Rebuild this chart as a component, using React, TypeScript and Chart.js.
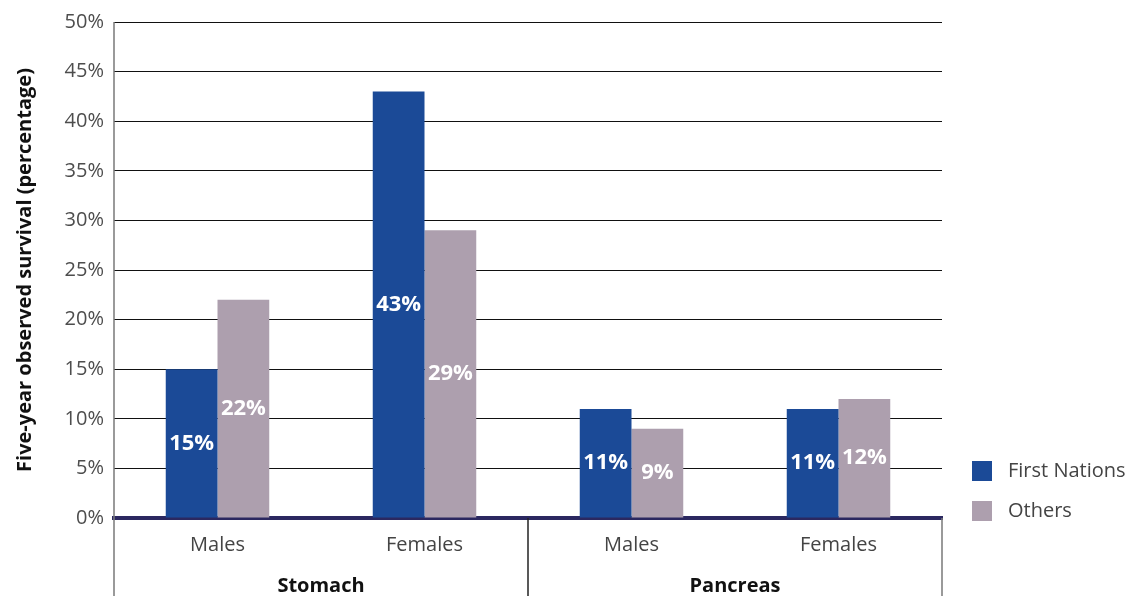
import React, { useEffect, useRef } from "react";
import { Chart, registerables } from "chart.js";

Chart.register(...registerables);

const subCategories = ["Males", "Females", "Males", "Females"];
const groups = ["Stomach", "Pancreas"];
const firstNations = [15, 43, 11, 11];
const others = [22, 29, 9, 12];
const yTicks = [0, 5, 10, 15, 20, 25, 30, 35, 40, 45, 50];
const seriesNames = ["First Nations", "Others"];
const seriesColors = ["#1b4a97", "#ad9fae"];

const FONT = "'Open Sans', 'Noto Sans', sans-serif";

const decorPlugin = {
  id: "decor",
  afterDraw(chart: any) {
    const { ctx, chartArea, scales } = chart;
    const x = scales.x;
    const H = chart.height;
    ctx.save();
    // data labels
    ctx.font = `bold 22px ${FONT}`;
    ctx.fillStyle = "#ffffff";
    ctx.textAlign = "center";
    ctx.textBaseline = "middle";
    chart.data.datasets.forEach((ds: any, di: number) => {
      const meta = chart.getDatasetMeta(di);
      meta.data.forEach((bar: any, i: number) => {
        const v = ds.data[i];
        const midY = (bar.y + bar.base) / 2;
        ctx.fillText(v + "%", bar.x, midY);
      });
    });
    // separators
    const sepMid = (x.getPixelForValue(1) + x.getPixelForValue(2)) / 2;
    ctx.lineWidth = 1.5;
    ctx.strokeStyle = "#7a7a7a";
    ctx.beginPath();
    ctx.moveTo(chartArea.left, chartArea.top);
    ctx.lineTo(chartArea.left, H);
    ctx.moveTo(chartArea.right, chartArea.bottom);
    ctx.lineTo(chartArea.right, H);
    ctx.stroke();
    ctx.strokeStyle = "#222222";
    ctx.beginPath();
    ctx.moveTo(sepMid, chartArea.bottom);
    ctx.lineTo(sepMid, H);
    ctx.stroke();
    // group labels
    ctx.font = `bold 20px ${FONT}`;
    ctx.fillStyle = "#111111";
    ctx.textBaseline = "middle";
    groups.forEach((g, gi) => {
      const cx = (x.getPixelForValue(gi * 2) + x.getPixelForValue(gi * 2 + 1)) / 2;
      ctx.fillText(g, cx, 586);
    });
    // legend
    ctx.textAlign = "left";
    ctx.font = `20px ${FONT}`;
    chart.data.datasets.forEach((ds: any, di: number) => {
      const top = 461 + di * 40;
      ctx.fillStyle = ds.backgroundColor;
      ctx.fillRect(972, top, 20, 20);
      ctx.fillStyle = "#444444";
      ctx.fillText(ds.label, 1008, top + 10);
    });
    ctx.restore();
  },
};

export default function App() {
  const ref = useRef<HTMLCanvasElement | null>(null);
  useEffect(() => {
    document.body.style.margin = "0";
    const chart = new Chart(ref.current as HTMLCanvasElement, {
      type: "bar",
      data: {
        labels: subCategories,
        datasets: [
          { label: seriesNames[0], data: firstNations, backgroundColor: seriesColors[0], categoryPercentage: 0.5, barPercentage: 1 },
          { label: seriesNames[1], data: others, backgroundColor: seriesColors[1], categoryPercentage: 0.5, barPercentage: 1 },
        ],
      },
      options: {
        animation: false,
        responsive: true,
        maintainAspectRatio: false,
        layout: { padding: { top: 11, right: 187, left: 0, bottom: 0 } },
        plugins: { legend: { display: false }, tooltip: { enabled: false } },
        scales: {
          x: {
            z: 1,
            grid: { display: false },
            border: { display: true, color: "#2b2860", width: 4 },
            ticks: { color: "#444444", font: { family: FONT, size: 20 }, padding: 7 },
            afterFit: (s: any) => { s.height = 78; },
          },
          y: {
            min: 0,
            max: 50,
            afterBuildTicks: (s: any) => { s.ticks = yTicks.map((v) => ({ value: v })); },
            grid: { color: "#111111", lineWidth: 1, drawTicks: false },
            border: { display: false },
            ticks: {
              color: "#4d4d4d",
              font: { family: FONT, size: 20 },
              padding: 10,
              callback: (v: any) => v + "%",
            },
            title: {
              display: true,
              text: "Five-year observed survival (percentage)",
              color: "#111111",
              font: { family: FONT, size: 20, weight: "bold" },
              padding: { top: 13, bottom: 0 },
            },
            afterFit: (s: any) => { s.width = 114; },
          },
        },
      },
      plugins: [decorPlugin],
    } as any);
    return () => chart.destroy();
  }, []);
  return (
    <div style={{ position: "relative", width: 1129, height: 596 }}>
      <canvas ref={ref} />
    </div>
  );
}
